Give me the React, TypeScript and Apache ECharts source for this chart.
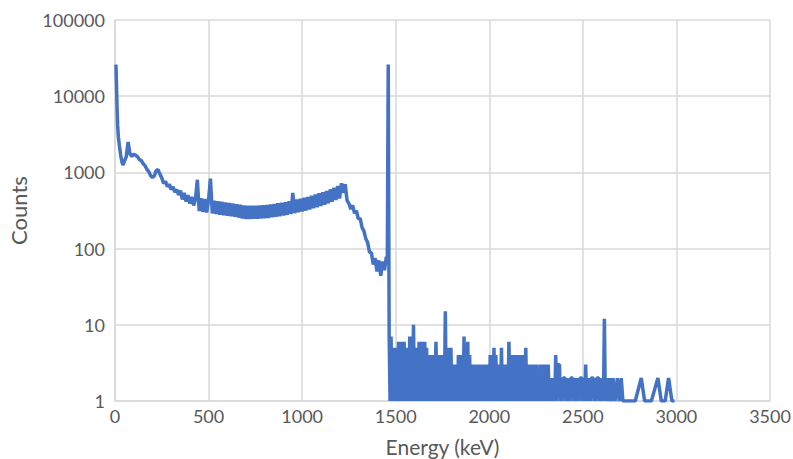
import React, { useEffect, useRef } from "react";
import * as echarts from "echarts";

// Gamma spectrum
const headEnergy = [5, 8, 11, 14, 18, 24, 30, 36, 42];
const headCounts = [26000, 14000, 7000, 4200, 2900, 2200, 1700, 1400, 1250];

const contStart = 50;
const contStep = 10;
const contCounts = [
  1400, 1600, 2500, 1750, 1620, 1730, 1680, 1610, 1480, 1430, // 50-140
  1310, 1230, 1100, 1030, 910, 860, 900, 1060, 1090, 950, // 150-240
  848, 717, 763, 651, 700, 599, 647, 552, 594, 505, // 250-340
  577, 442, 538, 415, 504, 390, 476, 368, 448, 800, // 350-440
  311, 458, 303, 447, 297, 436, 830, 289, 426, 284, // 450-540
  418, 279, 411, 274, 404, 269, 398, 265, 392, 261, // 550-640
  383, 255, 375, 249, 367, 244, 364, 244, 365, 246, // 650-740
  366, 247, 368, 248, 371, 250, 373, 252, 379, 257, // 750-840
  386, 261, 393, 266, 400, 271, 407, 277, 417, 284, // 850-940
  540, 292, 440, 300, 451, 307, 464, 315, 477, 326, // 950-1040
  494, 338, 512, 350, 531, 362, 549, 375, 569, 392, // 1050-1140
  599, 412, 630, 434, 661, 455, 720, 540, 700, 430, // 1150-1240
  390, 330, 370, 290, 315, 245, 250, 190, 170, 135, // 1250-1340
  120, 90, 88, 62, 75, 50, 70, 44, 68, 52, // 1350-1440
  78, // 1450
];

const peakEnergy = [1455, 1460];
const peakCounts = [62, 26000];

const denseStart = 1465;
const denseStep = 5;
const denseCounts: (number | null)[] = [
  7, 1, 7, 1, 5, 1, 5, 1, 5, 1, 6, 1, 6, 1, 6, 1, 6, 1, 5, 1, // 1465-1560
  5, 1, 7, 1, 7, 1, 10, 1, 5, 1, 5, 1, 6, 1, 6, 1, 6, 1, 6, 1, // 1565-1660
  5, 1, 4, 1, 4, 1, 4, 1, 4, 1, 6, 1, 4, 1, 4, 1, 4, 1, 4, 1, // 1665-1760
  15, 1, 4, 1, 5, 1, 5, 1, 3, 1, 3, 1, 3, 1, 4, 1, 4, 1, 4, 1, // 1765-1860
  7, 1, 5, 1, 6, 1, 4, 1, 3, 1, 3, 1, 3, 1, 3, 1, 3, 1, 3, 1, // 1865-1960
  3, 1, 3, 1, 3, 1, 3, 1, 4, 1, 4, 1, 5, 1, 4, 1, 3, 1, 3, 1, // 1965-2060
  5, 1, 3, 1, 3, 1, 3, 1, 6, 1, 4, 1, 4, 1, 4, 1, 4, 1, 4, 1, // 2065-2160
  4, 1, 4, 1, 4, 1, 5, 1, 3, 1, 3, 1, 3, 1, 3, 1, 3, 1, 3, 1, // 2165-2260
  2, 1, 3, 1, 3, 1, 3, 1, 3, 1, 3, 1, 2, 1, 2, 1, 2, 1, 4, 1, // 2265-2360
  3, null, 3, 1, 2, 1, 2, null, 2, 1, 2, 1, 2, 1, 2, null, 2, 1, 2, 1, // 2365-2460
  2, 1, 2, 1, 2, null, 2, 1, 2, 1, 3, 1, 2, 1, 2, 1, 2, null, 2, 1, // 2465-2560
  2, 1, 2, null, 2, 1, 2, 1, 2, 1, 12, 1, // 2565-2620
];

const tailEnergy = [2625, 2632, 2643, 2652, 2661, 2672, 2684, 2694, 2705, 2714, 2780, 2812, 2830, 2866, 2901, 2919, 2940, 2958, 2976, 2990];
const tailCounts = [2, 1, 2, 1, 2, 1, 2, 1, 2, 1, 1, 2, 1, 1, 2, 1, 1, 2, 1, 1];

const xTitle = "Energy (keV)";
const yTitle = "Counts";

function buildData(): [number, number][] {
  const d: [number, number][] = [];
  headEnergy.forEach((e, i) => d.push([e, headCounts[i]]));
  contCounts.forEach((c, i) => d.push([contStart + i * contStep, c]));
  peakEnergy.forEach((e, i) => d.push([e, peakCounts[i]]));
  denseCounts.forEach((c, i) => {
    if (c !== null) d.push([denseStart + i * denseStep, c]);
  });
  tailEnergy.forEach((e, i) => d.push([e, tailCounts[i]]));
  return d;
}

export default function App() {
  const ref = useRef<HTMLDivElement>(null);
  useEffect(() => {
    document.body.style.margin = "0";
    if (!ref.current) return;
    const chart = echarts.init(ref.current, undefined, { renderer: "svg" });
    const font = "Lato, 'Open Sans', sans-serif";
    chart.setOption({
      animation: false,
      backgroundColor: "#ffffff",
      grid: { left: 115, right: 23, top: 20, bottom: 58, outerBoundsMode: "none" },
      xAxis: {
        type: "value",
        min: 0,
        max: 3500,
        interval: 500,
        name: xTitle,
        nameLocation: "middle",
        nameGap: 35,
        nameTextStyle: { color: "#595959", fontSize: 21, fontFamily: font },
        axisLine: { show: true, lineStyle: { color: "#d9d9d9", width: 1.5 } },
        axisTick: { show: false },
        axisLabel: {
          color: "#595959",
          fontSize: 18,
          fontFamily: font,
          margin: 6,
          formatter: (v: number) => String(v),
        },
        splitLine: { show: true, lineStyle: { color: "#d9d9d9", width: 1.5 } },
      },
      yAxis: {
        type: "log",
        logBase: 10,
        min: 1,
        max: 100000,
        name: yTitle,
        nameLocation: "middle",
        nameGap: 86,
        nameTextStyle: { color: "#595959", fontSize: 22, fontFamily: font },
        axisLine: { show: true, lineStyle: { color: "#d9d9d9", width: 1.5 } },
        axisTick: { show: false },
        axisLabel: {
          color: "#595959",
          fontSize: 18,
          fontFamily: font,
          margin: 10,
          formatter: (v: number) => String(Math.round(v)),
        },
        splitLine: { show: true, lineStyle: { color: "#d9d9d9", width: 1.5 } },
      },
      series: [
        {
          type: "line",
          data: buildData(),
          showSymbol: false,
          symbol: "none",
          clip: true,
          lineStyle: { color: "#4472C4", width: 3.5 },
        },
      ],
    });
    return () => chart.dispose();
  }, []);
  return <div ref={ref} style={{ width: 793, height: 459 }} />;
}
